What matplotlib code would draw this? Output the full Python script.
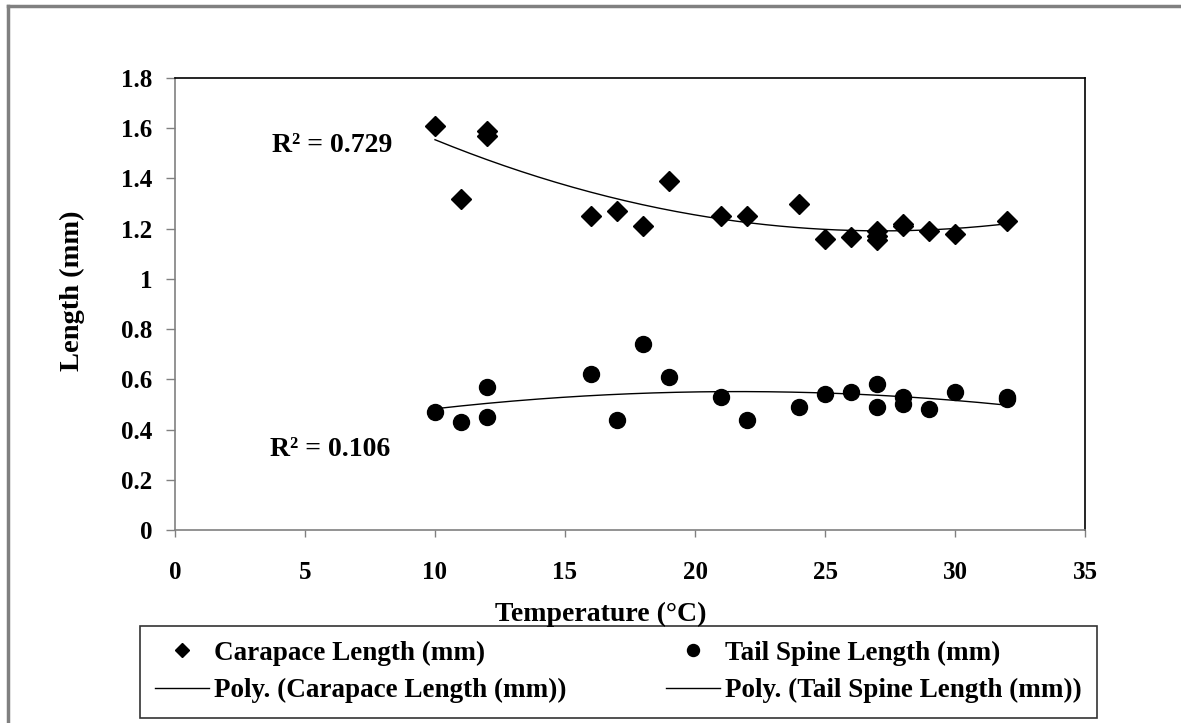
import numpy as np
import matplotlib
matplotlib.use("Agg")
import matplotlib.pyplot as plt
from matplotlib.lines import Line2D

# values
temp_carapace = [10, 11, 12, 12, 16, 17, 18, 19, 21, 22, 24, 25, 26, 27, 27, 27, 28, 28, 29, 30, 32]
carapace = [1.61, 1.32, 1.59, 1.57, 1.25, 1.27, 1.21, 1.39, 1.25, 1.25, 1.30, 1.16, 1.165,
            1.19, 1.17, 1.155, 1.21, 1.22, 1.19, 1.18, 1.23]

temp_tail = [10, 11, 12, 12, 16, 17, 18, 19, 21, 22, 24, 25, 26, 27, 27, 28, 28, 29, 30, 32, 32]
tail = [0.47, 0.43, 0.57, 0.45, 0.62, 0.44, 0.74, 0.61, 0.53, 0.44, 0.49, 0.54, 0.55,
        0.58, 0.49, 0.53, 0.50, 0.48, 0.55, 0.52, 0.53]

r2_labels = ["R² = 0.729", "R² = 0.106"]
xticks = [0, 5, 10, 15, 20, 25, 30, 35]
yticks = [0, 0.2, 0.4, 0.6, 0.8, 1, 1.2, 1.4, 1.6, 1.8]
ytick_labels = ["0", "0.2", "0.4", "0.6", "0.8", "1", "1.2", "1.4", "1.6", "1.8"]

plt.rcParams['font.family'] = ['Liberation Serif', 'DejaVu Serif']
plt.rcParams['font.weight'] = 'bold'

W, H = 1181, 723
fig = plt.figure(figsize=(W / 100, H / 100), dpi=100)
ax = fig.add_axes([175 / W, 1 - 530 / H, (1085 - 175) / W, (530 - 78) / H])

grey = '#808080'

p1, = ax.plot(temp_carapace, carapace, linestyle='none', marker='D', markersize=10,
              color='black', label='Carapace Length (mm)')
p2, = ax.plot(temp_tail, tail, linestyle='none', marker='o', markersize=11.5,
              color='black', label='Tail Spine Length (mm)')

# second order polynomial trend lines
xs = np.linspace(10, 32, 200)
c_fit = np.polyfit(temp_carapace, carapace, 2)
t_fit = np.polyfit(temp_tail, tail, 2)
l1, = ax.plot(xs, np.polyval(c_fit, xs), color='black', lw=1.0,
              label='Poly. (Carapace Length (mm))')
l2, = ax.plot(xs, np.polyval(t_fit, xs), color='black', lw=1.0,
              label='Poly. (Tail Spine Length (mm))')

ax.text(3.75, 1.53, r2_labels[0], fontsize=20, fontweight='bold', va='center', ha='left')
ax.text(3.65, 0.32, r2_labels[1], fontsize=20, fontweight='bold', va='center', ha='left')

ax.set_xlim(0, 35)
ax.set_ylim(0, 1.8)
ax.set_xticks(xticks)
ax.set_yticks(yticks)
ax.set_yticklabels(ytick_labels)
ax.tick_params(axis='x', direction='out', length=5, width=1, color=grey, labelsize=18, pad=17)
ax.tick_params(axis='y', direction='out', length=6.5, width=1, color=grey, labelsize=18, pad=10)
for lab in ax.get_xticklabels() + ax.get_yticklabels():
    lab.set_fontweight('bold')

ax.spines['left'].set_color(grey)
ax.spines['bottom'].set_color(grey)
ax.spines['top'].set_color('black')
ax.spines['right'].set_color('black')
for s in ax.spines.values():
    s.set_linewidth(1.2)

fig.text(601 / W, 1 - 614 / H, 'Temperature (°C)', fontsize=20, fontweight='bold',
         ha='center', va='center')
fig.text(72 / W, 1 - 291 / H, 'Length (mm)', fontsize=20.5, fontweight='bold',
         ha='center', va='center', rotation=90)

leg = fig.legend([p1, l1, p2, l2],
                 [p1.get_label(), l1.get_label(), p2.get_label(), l2.get_label()],
                 loc='lower left', bbox_to_anchor=(140 / W, 5 / H, (1097 - 140) / W, 0.13),
                 mode='expand', ncol=2, fontsize=19.5, frameon=True, fancybox=False,
                 edgecolor='black', facecolor='none', borderpad=0.55, labelspacing=0.45,
                 handlelength=2.0, handletextpad=0.2, markerscale=0.75, borderaxespad=0)
leg.get_frame().set_linewidth(1.2)
for t in leg.get_texts():
    t.set_fontweight('bold')

# grey outer frame of the chart area
fig.add_artist(Line2D([8 / W, 8 / W], [0, 1 - 6 / H], color=grey, lw=2.5,
                      transform=fig.transFigure))
fig.add_artist(Line2D([8 / W, 1], [1 - 6 / H, 1 - 6 / H], color=grey, lw=2.5,
                      transform=fig.transFigure))

fig.savefig('out.png', dpi=100)
